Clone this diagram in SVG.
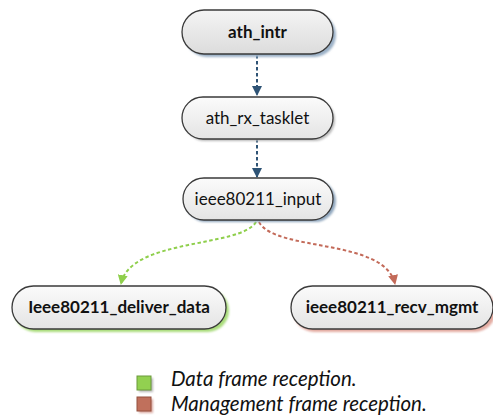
<svg xmlns="http://www.w3.org/2000/svg" width="493" height="419" viewBox="0 0 493 419">
  <defs>
    <linearGradient id="nodeFill" x1="0" y1="0" x2="0" y2="1">
      <stop offset="0" stop-color="#fbfbfb"/>
      <stop offset="1" stop-color="#e4e4e4"/>
    </linearGradient>
    <linearGradient id="nodeFillDark" x1="0" y1="0" x2="0" y2="1">
      <stop offset="0" stop-color="#f4f4f4"/>
      <stop offset="1" stop-color="#dcdcdc"/>
    </linearGradient>
    <filter id="soft" x="-10%" y="-20%" width="120%" height="140%">
      <feGaussianBlur stdDeviation="0.8"/>
    </filter>
    <marker id="arrowBlue" viewBox="0 0 10 10" refX="9" refY="5" markerWidth="5" markerHeight="5" orient="auto" markerUnits="strokeWidth">
      <path d="M0,0 L10,5 L0,10 z" fill="#2e5375"/>
    </marker>
    <marker id="arrowGreen" viewBox="0 0 10 10" refX="9" refY="5" markerWidth="5" markerHeight="5" orient="auto" markerUnits="strokeWidth">
      <path d="M0,0 L10,5 L0,10 z" fill="#8fcf4c"/>
    </marker>
    <marker id="arrowRed" viewBox="0 0 10 10" refX="9" refY="5" markerWidth="5" markerHeight="5" orient="auto" markerUnits="strokeWidth">
      <path d="M0,0 L10,5 L0,10 z" fill="#c36a59"/>
    </marker>
  </defs>
  <style>
    .pill { stroke: #3a3a3a; stroke-width: 1.3; }
    .label { font-family: Lato, "Open Sans", sans-serif; font-size: 17px; fill: #111; text-anchor: middle; }
    .bold { font-weight: bold; }
    .edge { fill: none; stroke-width: 2; stroke-dasharray: 3.5 2.5; }
    .legend { font-family: Lato, "Open Sans", sans-serif; font-size: 20.5px; font-style: italic; fill: #111; }
  </style>

  <rect width="493" height="419" fill="#ffffff"/>

  <!-- connectors -->
  <g id="connectors">
    <path class="edge" d="M257,55 L257,95" stroke="#2e5375" marker-end="url(#arrowBlue)"/>
    <path class="edge" d="M257,139 L257,177" stroke="#2e5375" marker-end="url(#arrowBlue)"/>
    <path class="edge" d="M256,222 C240,248 130,238 121,284" stroke="#8fcf4c" marker-end="url(#arrowGreen)"/>
    <path class="edge" d="M259,222 C275,252 385,238 395,284" stroke="#c36a59" marker-end="url(#arrowRed)"/>
  </g>

  <!-- nodes -->
  <g id="ath_intr">
    <rect x="185" y="13" width="151" height="44" rx="22" fill="#9bb1c7" filter="url(#soft)"/>
    <rect class="pill" x="182" y="10" width="151" height="44" rx="22" fill="url(#nodeFillDark)"/>
    <text class="label bold" x="257.5" y="38">ath_intr</text>
  </g>
  <g id="ath_rx_tasklet">
    <rect x="184" y="99" width="151" height="42" rx="21" fill="#b8b8b8" filter="url(#soft)"/>
    <rect class="pill" x="182" y="97" width="151" height="42" rx="21" fill="url(#nodeFill)"/>
    <text class="label" x="257.5" y="124">ath_rx_tasklet</text>
  </g>
  <g id="ieee80211_input">
    <rect x="185" y="180" width="151" height="42" rx="21" fill="#8fa6bd" filter="url(#soft)"/>
    <rect class="pill" x="183" y="178" width="150" height="42" rx="21" fill="url(#nodeFill)"/>
    <text class="label" x="258" y="205">ieee80211_input</text>
  </g>
  <g id="ieee80211_deliver_data">
    <rect x="14" y="289" width="215" height="43" rx="21.5" fill="#a9dc7a" filter="url(#soft)"/>
    <rect class="pill" x="12" y="286" width="214" height="43" rx="21.5" fill="url(#nodeFill)"/>
    <text class="label bold" x="119" y="313">Ieee80211_deliver_data</text>
  </g>
  <g id="ieee80211_recv_mgmt">
    <rect x="293" y="289" width="203" height="43" rx="21.5" fill="#e3aaa0" filter="url(#soft)"/>
    <rect class="pill" x="291" y="286" width="202" height="43" rx="21.5" fill="url(#nodeFill)"/>
    <text class="label bold" x="392" y="313">ieee80211_recv_mgmt</text>
  </g>

  <!-- legend -->
  <g id="legend">
    <rect x="139" y="378" width="14" height="14" fill="#b5b5b5" filter="url(#soft)"/>
    <rect x="137" y="376" width="14" height="14" fill="#92d050" stroke="#6a9a3a" stroke-width="1"/>
    <text class="legend" x="171" y="386">Data frame reception.</text>
    <rect x="139" y="399" width="14" height="14" fill="#d9a8a0" filter="url(#soft)"/>
    <rect x="137" y="397" width="14" height="14" fill="#c0705c" stroke="#94503f" stroke-width="1"/>
    <text class="legend" x="171" y="411">Management frame reception.</text>
  </g>
</svg>
